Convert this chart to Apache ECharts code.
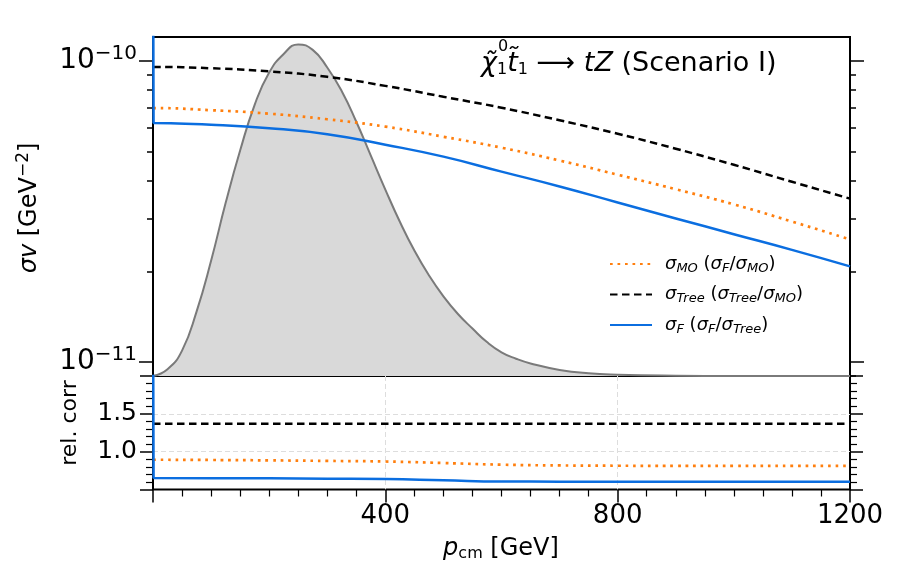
<!DOCTYPE html>
<html>
<head>
<meta charset="utf-8">
<script src="https://cdn.jsdelivr.net/npm/echarts@6/dist/echarts.min.js"></script>
<style>
  body { margin: 0; padding: 0; background: #fff; }
  #main { width: 901px; height: 581px; }
</style>
</head>
<body>
<div id="main"></div>
<script>
// p_cm grid in GeV; sigma_F diverges right at p = 0
var pcm = [0, 1, 2, 100, 200, 300, 400, 500, 600, 700, 800, 900, 1000, 1100, 1200];
var sigmaMO = [6.97e-11, 6.97e-11, 6.97e-11, 6.86e-11, 6.68e-11, 6.40e-11, 6.05e-11, 5.60e-11, 5.15e-11, 4.67e-11, 4.19e-11, 3.75e-11, 3.34e-11, 2.93e-11, 2.555e-11];
var sigmaTree = [9.55e-11, 9.55e-11, 9.55e-11, 9.45e-11, 9.23e-11, 8.85e-11, 8.26e-11, 7.60e-11, 6.99e-11, 6.35e-11, 5.73e-11, 5.11e-11, 4.52e-11, 3.97e-11, 3.49e-11];
var sigmaF = [1e-9, 6.22e-11, 6.22e-11, 6.14e-11, 5.98e-11, 5.71e-11, 5.27e-11, 4.81e-11, 4.29e-11, 3.83e-11, 3.39e-11, 3.00e-11, 2.66e-11, 2.36e-11, 2.08e-11];

// lower panel ratios
var ratioMO = [0.893, 0.893, 0.893, 0.890, 0.885, 0.878, 0.870, 0.850, 0.828, 0.818, 0.814, 0.813, 0.813, 0.813, 0.813];
var ratioTree = [1.37, 1.37, 1.37, 1.37, 1.37, 1.37, 1.37, 1.37, 1.37, 1.37, 1.37, 1.37, 1.37, 1.37, 1.37];
var ratioF = [5, 0.651, 0.651, 0.650, 0.648, 0.643, 0.638, 0.622, 0.606, 0.604, 0.603, 0.602, 0.602, 0.601, 0.601];

// momentum distribution (arbitrary units, peak ~1)
var distP = [0, 25, 50, 75, 100, 125, 150, 175, 200, 225, 250, 275, 300, 325, 350, 375, 400, 425, 450, 475, 500, 525, 550, 575, 600, 625, 650, 700, 750, 800, 900, 1000, 1200];
var distW = [0, 0.02, 0.075, 0.19, 0.34, 0.51, 0.665, 0.80, 0.895, 0.950, 0.978, 0.962, 0.91, 0.84, 0.75, 0.65, 0.55, 0.455, 0.37, 0.297, 0.235, 0.183, 0.14, 0.10, 0.07, 0.051, 0.037, 0.018, 0.008, 0.004, 0.001, 0, 0];

var majorLog = [1e-11, 1e-10];
var minorLog = [9e-12, 2e-11, 3e-11, 4e-11, 5e-11, 6e-11, 7e-11, 8e-11, 9e-11];
var xLabels = [400, 800, 1200];
var relLabels = [1.0, 1.5];

var FONT = 'DejaVu Sans';
var tickStyle = { color: '#000', width: 1.5 };
var gridDash = { color: '#dddddd', width: 1, type: [5, 3] };

function pairs(xs, ys) {
    return xs.map(function (x, i) { return [x, ys[i]]; });
}

function logAxis(pos, values, len, labels) {
    return {
        gridIndex: 0, type: 'log', min: 9e-12, max: 1.2e-10, position: pos,
        axisLine: { show: false, onZero: false },
        axisTick: { customValues: values, length: len, lineStyle: tickStyle },
        axisLabel: labels ? {
            customValues: majorLog, margin: 16, color: '#000',
            formatter: function (v) {
                var e = Math.round(Math.log10(v));
                return '{b|10}{s|' + String(e).replace('-', '\u2212') + '}';
            },
            rich: {
                b: { fontSize: 28, fontFamily: FONT, color: '#000' },
                s: { fontSize: 20, fontFamily: FONT, color: '#000', padding: [0, 0, 15, 0] }
            }
        } : { show: false },
        splitLine: { show: false }
    };
}

function relAxis(pos, labels) {
    return {
        gridIndex: 1, type: 'value', min: 0.5, max: 2, interval: 0.5, position: pos,
        axisLine: { show: false, onZero: false },
        axisTick: { length: 13, lineStyle: tickStyle },
        minorTick: { show: true, splitNumber: 5, length: 7, lineStyle: { color: '#000', width: 1.2 } },
        axisLabel: labels ? {
            customValues: relLabels, margin: 16, fontSize: 25, fontFamily: FONT, color: '#000',
            formatter: function (v) { return v.toFixed(1); }
        } : { show: false },
        splitLine: labels ? { show: true, showMinLine: false, showMaxLine: false, lineStyle: gridDash } : { show: false }
    };
}

var legendText = {
    mo: '{sp| }{g|\u03c3}{sb|MO}{n| (}{g|\u03c3}{sb|F}{n|/}{g|\u03c3}{sb|MO}{n|)}',
    tree: '{sp| }{g|\u03c3}{sb|Tree}{n| (}{g|\u03c3}{sb|Tree}{n|/}{g|\u03c3}{sb|MO}{n|)}',
    f: '{sp| }{g|\u03c3}{sb|F}{n| (}{g|\u03c3}{sb|F}{n|/}{g|\u03c3}{sb|Tree}{n|)}'
};

var orangeLine = { color: '#ff7f0e', width: 2.7, type: [2.7, 4.8] };
var blackLine = { color: '#000', width: 2.5, type: [7.5, 4.5] };
var blueLine = { color: '#0b6ee0', width: 2.5 };

var chart = echarts.init(document.getElementById('main'));
chart.setOption({
    animation: false,
    backgroundColor: '#fff',
    textStyle: { fontFamily: FONT },
    grid: [
        { left: 153, top: 37, width: 697, height: 339, show: true, borderColor: '#000', borderWidth: 2, backgroundColor: 'transparent' },
        { left: 153, top: 376, width: 697, height: 113.5, show: true, borderColor: '#000', borderWidth: 2, backgroundColor: 'transparent' }
    ],
    xAxis: [
        { gridIndex: 0, type: 'value', min: 0, max: 1200, interval: 400,
          axisLine: { show: false }, axisTick: { show: false }, axisLabel: { show: false }, splitLine: { show: false } },
        { gridIndex: 1, type: 'value', min: 0, max: 1200, interval: 400,
          axisLine: { show: false, onZero: false },
          axisTick: { length: 13, lineStyle: tickStyle },
          minorTick: { show: true, splitNumber: 8, length: 7, lineStyle: { color: '#000', width: 1.2 } },
          axisLabel: { customValues: xLabels, margin: 14, fontSize: 26, fontFamily: FONT, color: '#000',
                       formatter: function (v) { return String(v); } },
          splitLine: { show: true, showMinLine: false, showMaxLine: false, lineStyle: gridDash } }
    ],
    yAxis: [
        logAxis('left', majorLog, 14, true),
        logAxis('left', minorLog, 6, false),
        logAxis('right', majorLog, 14, false),
        logAxis('right', minorLog, 6, false),
        { gridIndex: 0, type: 'value', min: 0, max: 1, show: false },
        relAxis('left', true),
        relAxis('right', false)
    ],
    legend: {
        data: ['mo', 'tree', 'f'], orient: 'vertical', left: 604, top: 250,
        itemWidth: 42, itemHeight: 14, itemGap: 10.5,
        itemStyle: { opacity: 0 },
        formatter: function (name) { return legendText[name]; },
        textStyle: {
            color: '#000', fontFamily: FONT,
            rich: {
                sp: { width: 8, fontSize: 10 },
                g: { fontSize: 18, fontStyle: 'italic', fontFamily: FONT, color: '#000' },
                sb: { fontSize: 13, fontStyle: 'italic', fontFamily: FONT, color: '#000', padding: [9, 0, 0, 0] },
                n: { fontSize: 18, fontFamily: FONT, color: '#000' }
            }
        }
    },
    graphic: [
        { type: 'text', x: 481, y: 64, style: {
            text: '{m|\u03c7\u0303}{sb|1}{m|t\u0303}{sb|1}{n| \u27f6 }{m|tZ}{n| (Scenario I)}',
            align: 'left', verticalAlign: 'middle', textAlign: 'left', textVerticalAlign: 'middle',
            rich: {
                m: { fontSize: 27, fontStyle: 'italic', fontFamily: FONT, fill: '#000', color: '#000' },
                sb: { fontSize: 16, fontFamily: FONT, fill: '#000', color: '#000', padding: [12, 0, 0, 0] },
                n: { fontSize: 27, fontFamily: FONT, fill: '#000', color: '#000' }
            } } },
        { type: 'text', x: 498, y: 47, style: {
            text: '0', fontSize: 16, fontFamily: FONT, fill: '#000',
            align: 'left', verticalAlign: 'middle', textAlign: 'left', textVerticalAlign: 'middle' } },
        { type: 'text', x: 30, y: 208, rotation: Math.PI / 2, style: {
            text: '{g|\u03c3v}{n| [GeV}{s|\u22122}{n|]}',
            align: 'center', verticalAlign: 'middle', textAlign: 'center', textVerticalAlign: 'middle',
            rich: {
                g: { fontSize: 24, fontStyle: 'italic', fontFamily: FONT, fill: '#000', color: '#000' },
                n: { fontSize: 24, fontFamily: FONT, fill: '#000', color: '#000' },
                s: { fontSize: 17, fontFamily: FONT, fill: '#000', color: '#000', padding: [0, 0, 12, 0] }
            } } },
        { type: 'text', x: 70, y: 423, rotation: Math.PI / 2, style: {
            text: 'rel. corr', fontSize: 22, fontFamily: FONT, fill: '#000',
            align: 'center', verticalAlign: 'middle', textAlign: 'center', textVerticalAlign: 'middle' } },
        { type: 'text', x: 501, y: 549, style: {
            text: '{p|p}{c|cm}{n| [GeV]}',
            align: 'center', verticalAlign: 'middle', textAlign: 'center', textVerticalAlign: 'middle',
            rich: {
                p: { fontSize: 24, fontStyle: 'italic', fontFamily: FONT, fill: '#000', color: '#000' },
                c: { fontSize: 16, fontFamily: FONT, fill: '#000', color: '#000', padding: [9, 0, 0, 0] },
                n: { fontSize: 24, fontFamily: FONT, fill: '#000', color: '#000' }
            } } }
    ],
    series: [
        { name: 'dist', type: 'line', xAxisIndex: 0, yAxisIndex: 4, data: pairs(distP, distW),
          smooth: 0.5, symbol: 'none', silent: true, z: 1,
          lineStyle: { color: '#7a7a7a', width: 2 }, areaStyle: { color: '#d9d9d9', opacity: 1 } },
        { name: 'mo', type: 'line', xAxisIndex: 0, yAxisIndex: 0, data: pairs(pcm, sigmaMO),
          smooth: 0.5, symbol: 'none', z: 3, color: '#ff7f0e', lineStyle: orangeLine },
        { name: 'tree', type: 'line', xAxisIndex: 0, yAxisIndex: 0, data: pairs(pcm, sigmaTree),
          smooth: 0.5, symbol: 'none', z: 3, color: '#000', lineStyle: blackLine },
        { name: 'f', type: 'line', xAxisIndex: 0, yAxisIndex: 0, data: pairs(pcm, sigmaF),
          smooth: 0.5, symbol: 'none', z: 3, color: '#0b6ee0', lineStyle: blueLine },
        { name: 'mo_r', type: 'line', xAxisIndex: 1, yAxisIndex: 5, data: pairs(pcm, ratioMO),
          smooth: 0.5, symbol: 'none', z: 3, lineStyle: orangeLine },
        { name: 'tree_r', type: 'line', xAxisIndex: 1, yAxisIndex: 5, data: pairs(pcm, ratioTree),
          symbol: 'none', z: 3, lineStyle: blackLine },
        { name: 'f_r', type: 'line', xAxisIndex: 1, yAxisIndex: 5, data: pairs(pcm, ratioF),
          smooth: 0.5, symbol: 'none', z: 3, lineStyle: blueLine }
    ]
});
</script>
</body>
</html>
